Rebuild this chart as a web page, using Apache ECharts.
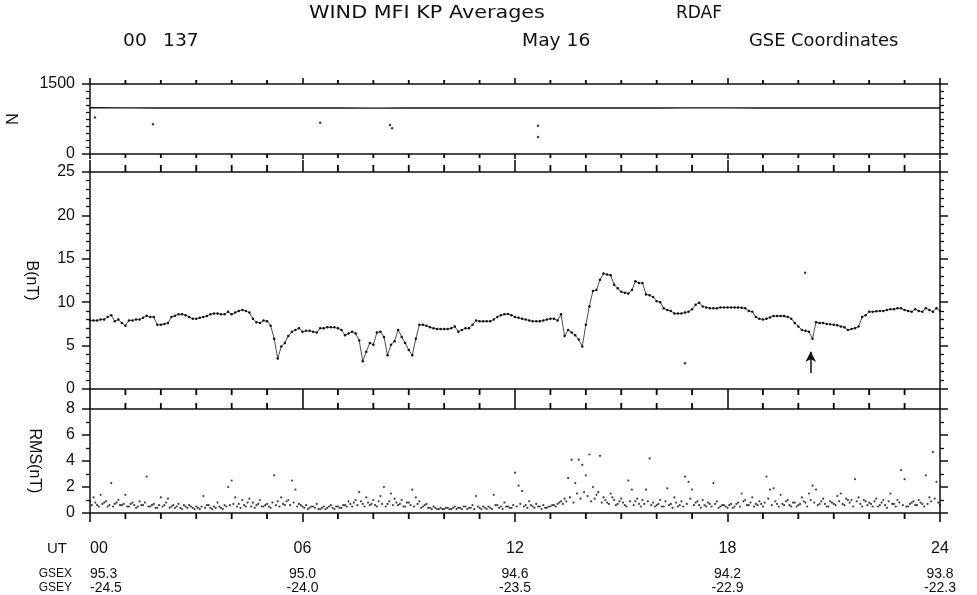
<!DOCTYPE html>
<html><head><meta charset="utf-8">
<script src="https://cdn.jsdelivr.net/npm/echarts@6/dist/echarts.min.js"></script>
<style>html,body{margin:0;padding:0;background:#fff}#c{width:977px;height:595px}</style>
</head><body><div id="c"></div>
<script>
// ---------------- data ----------------
const hourLabels = ['00', '06', '12', '18', '24'];
const gsexLabels = ['95.3', '95.0', '94.6', '94.2', '93.8'];
const gseyLabels = ['-24.5', '-24.0', '-23.5', '-22.9', '-22.3'];
const rowNames = ['UT', 'GSEX', 'GSEY'];
const hourTickValues = [1, 2, 3, 4, 5, 7, 8, 9, 10, 11,
                        13, 14, 15, 16, 17, 19, 20, 21, 22, 23];
const sampleStep = 0.1;          // hours between plotted KP samples
const lowOffset = 0.05;          // second RMS sample row offset (hours)

// N: hourly values of the flat line, plus stray points [hour, N]
const nLine = [990, 988, 987, 986, 985, 985, 986, 985, 984, 985, 985, 986, 986,
               985, 985, 986, 987, 988, 988, 987, 986, 985, 985, 986, 986];
const nDots = [[0.14, 780], [1.78, 640], [6.5, 670], [8.47, 620], [8.53, 550], [12.65, 607], [12.65, 364]];

// |B| (nT) every 0.1 h from 00 to 24 UT
const bValues = [
  7.9, 7.9, 7.9, 8.0, 8.0, 8.3, 8.5, 7.8, 8.0, 7.6,
  7.3, 7.9, 7.9, 8.0, 8.0, 8.2, 8.45, 8.3, 8.3, 7.4,
  7.4, 7.5, 7.6, 8.3, 8.45, 8.6, 8.6, 8.5, 8.3, 8.1,
  8.1, 8.2, 8.3, 8.4, 8.6, 8.7, 8.7, 8.6, 8.6, 8.9,
  8.6, 8.8, 9.0, 9.1, 9.0, 8.8, 8.1, 7.7, 7.6, 7.9,
  7.8, 7.3, 5.8, 3.5, 4.9, 5.3, 6.1, 6.6, 6.8, 7.0,
  6.6, 6.7, 6.7, 6.6, 6.5, 7.0, 7.0, 7.1, 7.1, 7.1,
  7.0, 6.8, 6.2, 6.4, 6.6, 6.4, 5.6, 3.2, 4.3, 5.3,
  5.1, 6.5, 6.6, 6.0, 3.9, 5.1, 5.5, 6.8, 6.0, 5.3,
  4.5, 3.9, 5.8, 7.4, 7.4, 7.3, 7.1, 7.0, 6.9, 6.9,
  6.9, 6.9, 7.0, 7.2, 6.6, 6.8, 7.0, 7.0, 7.4, 7.9,
  7.8, 7.8, 7.8, 7.8, 8.0, 8.3, 8.5, 8.6, 8.65, 8.5,
  8.3, 8.2, 8.1, 8.0, 7.9, 7.8, 7.8, 7.8, 7.9, 8.0,
  8.1, 8.1, 7.9, 8.6, 6.1, 6.8, 6.5, 6.2, 5.7, 4.9,
  7.4, 9.5, 11.3, 11.4, 12.6, 13.3, 13.2, 13.1, 12.0, 11.6,
  11.2, 11.1, 11.0, 11.4, 12.4, 12.2, 12.2, 10.9, 10.8, 10.6,
  10.1, 10.0, 9.3, 9.1, 9.0, 8.7, 8.7, 8.7, 8.8, 8.9,
  9.2, 9.7, 9.95, 9.5, 9.4, 9.3, 9.3, 9.3, 9.4, 9.4,
  9.4, 9.4, 9.4, 9.4, 9.35, 9.3, 9.0, 8.9, 8.3, 8.1,
  8.0, 8.1, 8.25, 8.4, 8.4, 8.4, 8.4, 8.3, 8.1, 7.6,
  7.2, 6.8, 6.7, 6.6, 5.8, 7.7, 7.6, 7.6, 7.5, 7.45,
  7.4, 7.35, 7.2, 7.1, 6.8, 6.9, 7.0, 7.2, 8.3, 8.5,
  8.9, 8.9, 8.95, 9.0, 9.0, 9.1, 9.2, 9.2, 9.3, 9.3,
  9.1, 9.0, 8.9, 9.2, 9.0, 8.9, 9.3, 9.1, 8.9, 9.3,
  9.0
];
const bOutliers = [[16.8, 2.96], [20.19, 13.4]];
const arrowHour = 20.35, arrowTop = 4.3, arrowBottom = 1.85;

// RMS (nT) every 0.1 h, plus a second row of samples at +0.05 h
const rmsValues = [
  0.9, 1.2, 0.6, 1.4, 0.8, 0.5, 2.3, 0.7, 1.0, 0.6,
  1.4, 0.5, 0.8, 0.4, 0.9, 0.6, 2.8, 0.5, 0.7, 0.4,
  1.2, 0.6, 1.1, 0.5, 0.4, 0.7, 0.3, 0.5, 0.6, 0.4,
  0.5, 0.3, 1.3, 0.6, 0.4, 0.5, 0.8, 0.4, 0.6, 2.0,
  2.5, 1.2, 0.7, 1.0, 0.5, 1.1, 0.8, 0.6, 1.0, 0.5,
  0.7, 0.4, 2.9, 0.9, 1.2, 0.6, 1.0, 2.5, 1.8, 0.7,
  0.5, 0.6, 0.4, 0.5, 0.7, 0.3, 0.5, 0.4, 0.6, 0.3,
  0.5, 0.4, 0.6, 0.9, 0.5, 1.0, 1.6, 0.7, 1.2, 0.6,
  1.0, 0.5, 1.3, 2.0, 0.7, 1.5, 1.1, 0.6, 1.0, 0.5,
  0.8, 1.8, 1.2, 0.9, 0.5, 0.7, 0.4, 0.5, 0.3, 0.4,
  0.3, 0.4, 0.3, 0.5, 0.4, 0.3, 0.5, 0.4, 0.6, 1.3,
  0.4, 0.5, 0.3, 0.4, 1.4, 0.6, 0.5, 0.8, 0.5, 0.4,
  3.1, 2.1, 1.7, 0.6, 0.9, 0.5, 0.7, 0.5, 0.6, 0.4,
  0.5, 0.6, 0.7, 0.9, 1.1, 2.7, 4.1, 2.3, 4.1, 3.7,
  2.9, 4.5, 2.0, 1.4, 4.4, 1.2, 0.8, 1.5, 1.0, 0.7,
  1.1, 0.6, 2.5, 1.8, 0.9, 0.7, 1.0, 1.8, 4.2, 0.8,
  0.6, 1.0, 0.5, 1.9, 0.7, 1.2, 0.5, 0.9, 2.8, 2.4,
  1.8, 0.8, 0.6, 1.0, 0.5, 0.7, 2.3, 0.9, 0.5, 0.6,
  0.4, 0.7, 0.5, 0.8, 1.5, 1.0, 0.6, 1.2, 0.7, 0.9,
  0.5, 2.8, 1.8, 1.9, 0.7, 1.4, 0.6, 1.0, 0.5, 0.8,
  0.6, 1.2, 0.8, 1.5, 2.1, 1.8, 0.7, 1.1, 0.5, 0.9,
  0.7, 1.3, 1.5, 0.6, 1.0, 1.0, 2.6, 1.2, 0.5, 0.9,
  0.8, 0.5, 1.1, 0.6, 1.0, 0.4, 1.5, 0.7, 1.0, 3.3,
  2.6, 0.5, 0.8, 0.6, 1.0, 0.7, 2.9, 1.2, 4.7, 2.4,
  0.6
];
const rmsLow = [
  0.6, 0.8, 0.5, 0.7, 0.9, 0.6, 0.5, 0.8, 0.6, 0.7,
  0.5, 0.7, 0.6, 0.5, 0.6, 0.8, 0.5, 0.6, 0.4, 0.6,
  0.5, 0.8, 0.4, 0.6, 0.5, 0.4, 0.6, 0.4, 0.5, 0.3,
  0.4, 0.5, 0.4, 0.6, 0.3, 0.4, 0.5, 0.3, 0.5, 0.6,
  0.7, 0.5, 0.4, 0.6, 0.8, 0.5, 0.4, 0.7, 0.5, 0.6,
  0.5, 0.8, 0.6, 0.5, 0.7, 0.9, 0.6, 0.8, 0.5, 0.6,
  0.4, 0.3, 0.5, 0.4, 0.3, 0.4, 0.3, 0.5, 0.4, 0.5,
  0.4, 0.6, 0.5, 0.7, 0.8, 0.6, 0.9, 0.5, 0.8, 0.7,
  0.6, 0.9, 0.7, 0.5, 0.9, 0.6, 0.8, 0.7, 0.5, 0.8,
  0.6, 0.5, 0.7, 0.4, 0.6, 0.4, 0.3, 0.4, 0.3, 0.3,
  0.4, 0.3, 0.4, 0.3, 0.4, 0.5, 0.3, 0.4, 0.3, 0.5,
  0.3, 0.4, 0.5, 0.3, 0.6, 0.4, 0.3, 0.5, 0.4, 0.6,
  0.5, 0.7, 0.5, 0.4, 0.6, 0.4, 0.5, 0.3, 0.4, 0.5,
  0.6, 0.5, 0.8, 0.7, 0.9, 1.2, 0.8, 1.5, 1.1, 1.6,
  1.3, 0.9, 1.1, 1.6, 0.8, 1.0, 0.7, 1.2, 0.6, 0.9,
  0.8, 0.5, 0.9, 0.6, 1.1, 0.5, 0.7, 0.9, 0.6, 0.5,
  0.7, 0.5, 0.9, 0.6, 0.4, 0.8, 0.6, 0.5, 0.7, 1.1,
  0.6, 0.9, 0.4, 0.6, 0.8, 0.5, 0.7, 0.4, 0.6, 0.5,
  0.6, 0.4, 0.7, 0.5, 0.9, 0.6, 0.8, 0.5, 0.6, 0.7,
  0.8, 1.1, 0.6, 0.9, 0.5, 0.7, 0.9, 0.6, 0.8, 0.5,
  0.7, 0.9, 0.5, 1.0, 0.8, 0.6, 0.9, 0.7, 0.5, 0.8,
  0.6, 0.9, 0.7, 1.1, 0.8, 0.5, 0.9, 0.7, 1.0, 0.6,
  0.7, 0.9, 0.5, 0.8, 0.6, 0.9, 0.7, 0.5, 0.8, 0.6,
  0.5, 0.7, 0.9, 0.6, 0.8, 0.5, 0.7, 0.9, 1.1, 0.8
];

// ---------------- chart ----------------
const INK = '#111';
const LABEL_FONT = 'Liberation Sans';
const TITLE_FONT = 'DejaVu Sans';
const hourIndex = v => Math.round(v / 6);

// panel edge axis: 6-hourly major ticks + edge line
function xMajor(grid, pos, len) {
  return {
    type: 'value', gridIndex: grid, position: pos, min: 0, max: 24, interval: 6,
    axisLine: { show: true, onZero: false, lineStyle: { color: INK, width: 1.5 } },
    axisTick: { show: true, inside: false, length: len, lineStyle: { color: INK, width: 1.6 } },
    axisLabel: { show: false },
    splitLine: { show: false }
  };
}
function labelAx(offset, labels, fontSize) {
  return {
    type: 'value', gridIndex: 2, position: 'bottom', offset: offset, min: 0, max: 24, interval: 6,
    axisLine: { show: false }, axisTick: { show: false }, splitLine: { show: false },
    axisLabel: {
      show: true, margin: 0, verticalAlign: 'middle', color: INK,
      fontFamily: LABEL_FONT, fontSize: fontSize,
      alignMinLabel: 'left', alignMaxLabel: 'center',
      formatter: v => labels[hourIndex(v)]
    }
  };
}
function yAx(grid, pos, max, interval, minorSplit, showLabel, name, nameGap) {
  return {
    type: 'value', gridIndex: grid, position: pos, min: 0, max: max, interval: interval,
    axisLine: { show: true, onZero: false, lineStyle: { color: INK, width: 1.5 } },
    axisTick: { show: true, inside: false, length: 8, lineStyle: { color: INK, width: 1.5 } },
    minorTick: { show: true, splitNumber: minorSplit, length: 4, lineStyle: { color: INK, width: 1.3 } },
    axisLabel: { show: showLabel, margin: 15, color: INK, fontFamily: LABEL_FONT, fontSize: 16,
                 formatter: v => String(v) },
    splitLine: { show: false }, minorSplitLine: { show: false },
    name: name || '', nameLocation: 'middle', nameRotate: -90, nameGap: nameGap || 0,
    nameTextStyle: { color: INK, fontFamily: LABEL_FONT, fontSize: 16 }
  };
}
// hourly (minor) tick marks on the top and bottom edge of a panel, placed through the panel's scales
function hourTickSeries(xi, yi, yMax, upLen, downLen) {
  return {
    type: 'custom', xAxisIndex: xi, yAxisIndex: yi, silent: true, clip: false, z: 5,
    data: hourTickValues.map(h => [h, 0]),
    encode: { x: 0, y: 1 },
    renderItem: (params, api) => {
      const h = api.value(0);
      const top = api.coord([h, yMax]);
      const bot = api.coord([h, 0]);
      const st = { stroke: '#000', lineWidth: 1.8 };
      return { type: 'group', children: [
        { type: 'line', shape: { x1: top[0], y1: top[1], x2: top[0], y2: top[1] - upLen }, style: st },
        { type: 'line', shape: { x1: bot[0], y1: bot[1], x2: bot[0], y2: bot[1] + downLen }, style: st }
      ] };
    }
  };
}
function txt(text, x, y, size, sx, align, family) {
  return { type: 'text', x: x, y: y, scaleX: sx || 1, silent: true,
    style: { text: text, fill: INK, font: size + 'px "' + (family || TITLE_FONT) + '"',
             textAlign: align || 'left', textVerticalAlign: 'middle' } };
}

const gridBase = { left: 90, right: 37, containLabel: false, outerBoundsMode: 'none' };
const option = {
  animation: false,
  backgroundColor: '#fff',
  grid: [
    Object.assign({ top: 84, height: 70 }, gridBase),
    Object.assign({ top: 172, height: 217 }, gridBase),
    Object.assign({ top: 409, height: 104 }, gridBase)
  ],
  graphic: [
    txt('WIND MFI KP Averages', 309, 14, 17, 1.22),
    txt('RDAF', 676, 14, 17, 1.0),
    txt('00', 123, 42, 17, 1.1),
    txt('137', 163, 42, 17, 1.1),
    txt('May 16', 522, 42, 17, 1.1),
    txt('GSE Coordinates', 749, 42, 17, 1.05),
    txt(rowNames[0], 67, 549, 15, 1, 'right', LABEL_FONT),
    txt(rowNames[1], 72, 574, 12, 1, 'right', LABEL_FONT),
    txt(rowNames[2], 72, 588, 12, 1, 'right', LABEL_FONT)
  ],
  xAxis: [
    xMajor(0, 'bottom', 5),   // 0
    xMajor(0, 'top', 6),      // 1
    xMajor(1, 'top', 12),     // 2
    xMajor(1, 'bottom', 10),  // 3
    xMajor(2, 'top', 10),     // 4
    xMajor(2, 'bottom', 9),   // 5
    labelAx(36, hourLabels, 16),
    labelAx(61, gsexLabels, 14),
    labelAx(75, gseyLabels, 14)
  ],
  yAxis: [
    yAx(0, 'left', 1500, 1500, 10, true, 'N', 72),
    yAx(0, 'right', 1500, 1500, 10, false),
    yAx(1, 'left', 25, 5, 5, true, 'B(nT)', 51),
    yAx(1, 'right', 25, 5, 5, false),
    yAx(2, 'left', 8, 2, 2, true, 'RMS(nT)', 48),
    yAx(2, 'right', 8, 2, 2, false)
  ],
  series: [
    hourTickSeries(0, 0, 1500, 4, 4),
    hourTickSeries(3, 2, 25, 7, 6),
    hourTickSeries(5, 4, 8, 6, 6),
    { type: 'line', xAxisIndex: 0, yAxisIndex: 0, showSymbol: false, silent: true,
      lineStyle: { color: INK, width: 1.4 }, data: nLine.map((v, i) => [i, v]) },
    { type: 'scatter', xAxisIndex: 0, yAxisIndex: 0, symbolSize: 2.5, silent: true,
      itemStyle: { color: INK }, data: nDots },
    { type: 'line', xAxisIndex: 3, yAxisIndex: 2, silent: true,
      symbol: 'circle', showSymbol: true, symbolSize: 2.5,
      itemStyle: { color: INK }, lineStyle: { color: '#222', width: 0.8 },
      data: bValues.map((v, i) => [+(i * sampleStep).toFixed(2), v]),
      markLine: {
        silent: true, symbol: ['arrow', 'none'], symbolSize: [8, 10],
        lineStyle: { color: INK, width: 1.5, type: 'solid' }, label: { show: false },
        data: [[{ coord: [arrowHour, arrowTop] }, { coord: [arrowHour, arrowBottom] }]]
      } },
    { type: 'scatter', xAxisIndex: 3, yAxisIndex: 2, symbolSize: 2.5, silent: true,
      itemStyle: { color: INK }, data: bOutliers },
    { type: 'scatter', xAxisIndex: 5, yAxisIndex: 4, symbolSize: 2.2, silent: true,
      itemStyle: { color: INK }, data: rmsValues.map((v, i) => [+(i * sampleStep).toFixed(2), v]) },
    { type: 'scatter', xAxisIndex: 5, yAxisIndex: 4, symbolSize: 2.2, silent: true,
      itemStyle: { color: INK }, data: rmsLow.map((v, i) => [+(lowOffset + i * sampleStep).toFixed(2), v]) }
  ]
};
const chart = echarts.init(document.getElementById('c'), null, { renderer: 'canvas' });
chart.setOption(option);
</script>
</body></html>
